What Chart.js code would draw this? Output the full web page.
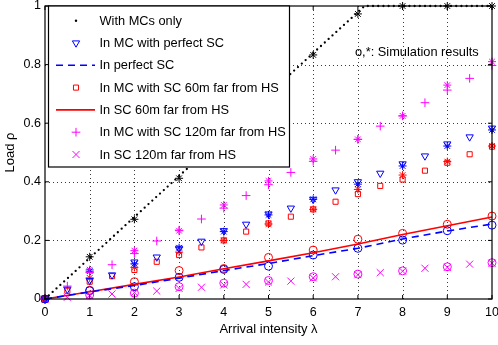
<!DOCTYPE html>
<html><head><meta charset="utf-8">
<script src="https://cdn.jsdelivr.net/npm/chart.js@4/dist/chart.umd.min.js"></script>
<style>html,body{margin:0;padding:0;background:#fff;}</style>
</head><body>
<canvas id="c" width="498" height="345" style="display:block;width:498px;height:345px"></canvas>
<script>
// ---- data ----
const lambdaHalf = [0,0.5,1,1.5,2,2.5,3,3.5,4,4.5,5,5.5,6,6.5,7,7.5,8,8.5,9,9.5,10];
const lambdaInt  = [0,1,2,3,4,5,6,7,8,9,10];
const xTicks = [0,1,2,3,4,5,6,7,8,9,10];
const yTicks = [0,0.2,0.4,0.6,0.8,1];
const yTickLabels = ["0","0.2","0.4","0.6","0.8","1"];

const labelMcOnly    = "With MCs only";
const labelMcPerfect = "In MC with perfect SC";
const labelPerfect   = "In perfect SC";
const labelMc60      = "In MC with SC 60m far from HS";
const labelSc60      = "In SC 60m far from HS";
const labelMc120     = "In MC with SC 120m far from HS";
const labelSc120     = "In SC 120m far from HS";
const noteText       = "o,*: Simulation results";
const xTitle = "Arrival intensity λ";
const yTitle = "Load ρ";

// analytic results
const mcOnlyX    = [0, 7.15, 10];
const mcOnlyLoad = [0, 1, 1];
const mcPerfectSC = [0,0.033,0.063,0.082,0.126,0.143,0.173,0.197,0.233,0.255,0.29,0.31,0.34,0.372,0.40,0.429,0.461,0.488,0.529,0.553,0.583];
const perfectSC   = [0,0.024,0.046,0.071,0.097,0.121,0.148,0.173,0.205,0.232,0.256];
const mcSC60      = [0,0.028,0.059,0.078,0.099,0.127,0.15,0.176,0.20,0.23,0.258,0.281,0.306,0.332,0.358,0.386,0.408,0.438,0.465,0.494,0.52];
const sc60        = [0,0.025,0.05,0.075,0.103,0.13,0.158,0.188,0.22,0.25,0.28];
const mcSC120     = [0,0.044,0.09,0.117,0.155,0.198,0.235,0.273,0.31,0.353,0.39,0.432,0.47,0.508,0.545,0.59,0.625,0.67,0.713,0.753,0.797];
const sc120       = [0,0.006,0.012,0.017,0.022,0.027,0.036,0.04,0.048,0.05,0.058,0.061,0.072,0.076,0.083,0.09,0.095,0.105,0.108,0.119,0.122];

// simulation results
const simMcOnly    = [0,0.144,0.272,0.412,0.555,0.695,0.833,0.973,1,1,1];
const simMcPerfect = [0,0.095,0.12,0.175,0.23,0.287,0.34,0.392,0.454,0.522,0.577];
const simPerfect   = [0,0.028,0.042,0.074,0.101,0.112,0.15,0.173,0.201,0.233,0.252];
const simMc60      = [0,0.072,0.108,0.16,0.20,0.256,0.306,0.374,0.423,0.469,0.522];
const simSc60      = [0,0.03,0.059,0.097,0.104,0.142,0.167,0.204,0.224,0.255,0.283];
const simMc120     = [0,0.10,0.165,0.233,0.321,0.403,0.478,0.545,0.625,0.73,0.81];
const simSc120     = [0,0.014,0.02,0.042,0.054,0.063,0.076,0.085,0.096,0.11,0.124];

const BLACK='#000000', BLUE='#0000ff', RED='#ff0000', MAG='#ff00ff';
const pts = (xs, ys) => xs.map((x,i)=>({x, y: ys[i]}));

function markers(label, xs, ys, color, style, r, rot, extra) {
  return Object.assign({
    label, data: pts(xs, ys), showLine:false, borderColor:color, backgroundColor:'rgba(0,0,0,0)',
    pointStyle:style, pointRadius:r, pointRotation:rot||0, pointBorderWidth:1,
    pointBorderColor:color, pointBackgroundColor:'rgba(0,0,0,0)', clip:false
  }, extra||{});
}
function line(label, xs, ys, color, dash, width, extra) {
  return Object.assign({
    label, data: pts(xs, ys), showLine:true, borderColor:color, borderWidth:width,
    borderDash:dash, pointRadius:0, tension:0, clip:false, fill:false
  }, extra||{});
}

const datasets = [
  line(labelMcOnly, mcOnlyX, mcOnlyLoad, BLACK, [0,5.2], 2.3, {borderCapStyle:'round', legendDot:true, inLegend:true}),
  markers(labelMcPerfect, lambdaHalf, mcPerfectSC, BLUE, 'triangle', 4.2, 180, {inLegend:true}),
  line(labelPerfect, lambdaInt, perfectSC, BLUE, [7,5], 1.6, {inLegend:true}),
  markers(labelMc60, lambdaHalf, mcSC60, RED, 'rect', 3.6, 0, {inLegend:true}),
  line(labelSc60, lambdaInt, sc60, RED, [], 1.6, {inLegend:true}),
  markers(labelMc120, lambdaHalf, mcSC120, MAG, 'cross', 4.3, 0, {inLegend:true}),
  markers(labelSc120, lambdaHalf, sc120, MAG, 'crossRot', 5, 0, {inLegend:true}),
  markers('sim MC only', lambdaInt, simMcOnly, BLACK, 'star', 4, 0),
  markers('sim MC perfect', lambdaInt, simMcPerfect, BLUE, 'star', 4, 0),
  markers('sim perfect SC', lambdaInt, simPerfect, BLUE, 'circle', 4, 0),
  markers('sim MC 60', lambdaInt, simMc60, RED, 'star', 4, 0),
  markers('sim SC 60', lambdaInt, simSc60, RED, 'circle', 4, 0),
  markers('sim MC 120', lambdaInt, simMc120, MAG, 'star', 4, 0),
  markers('sim SC 120', lambdaInt, simSc120, MAG, 'circle', 4, 0)
];

const FONT = '"Liberation Sans", Arial, Helvetica, sans-serif';

function drawMarker(ctx, style, x, y, r, rot, color, w) {
  ctx.save();
  ctx.strokeStyle = color; ctx.lineWidth = w; ctx.setLineDash([]);
  ctx.beginPath();
  if (style === 'triangle') {
    const a0 = (rot||0) * Math.PI/180;
    for (let k=0;k<3;k++){ const a=a0+k*2*Math.PI/3; const px=x+Math.sin(a)*r, py=y-Math.cos(a)*r; k?ctx.lineTo(px,py):ctx.moveTo(px,py);} ctx.closePath();
  } else if (style === 'rect') {
    const s = Math.SQRT1_2*r; ctx.rect(x-s,y-s,2*s,2*s);
  } else if (style === 'cross') {
    ctx.moveTo(x-r,y); ctx.lineTo(x+r,y); ctx.moveTo(x,y-r); ctx.lineTo(x,y+r);
  } else if (style === 'crossRot') {
    const s = Math.SQRT1_2*r; ctx.moveTo(x-s,y-s); ctx.lineTo(x+s,y+s); ctx.moveTo(x-s,y+s); ctx.lineTo(x+s,y-s);
  }
  ctx.stroke();
  ctx.restore();
}

const decor = {
  id: 'decor',
  beforeDatasetsDraw(chart) {
    const {ctx, chartArea: a, scales: {x, y}} = chart;
    ctx.save();
    ctx.strokeStyle = '#3a3a3a'; ctx.lineWidth = 1; ctx.setLineDash([1,3]);
    xTicks.forEach(v => { if (v>0 && v<10) { const px = Math.round(x.getPixelForValue(v))+0.5; ctx.beginPath(); ctx.moveTo(px,a.bottom); ctx.lineTo(px,a.top); ctx.stroke(); }});
    yTicks.forEach(v => { if (v>0 && v<1) { const py = Math.round(y.getPixelForValue(v))+0.5; ctx.beginPath(); ctx.moveTo(a.left,py); ctx.lineTo(a.right,py); ctx.stroke(); }});
    ctx.restore();
  },
  afterDatasetsDraw(chart) {
    const {ctx, chartArea: a, scales: {x, y}} = chart;
    ctx.save();
    // frame
    ctx.strokeStyle = '#000'; ctx.lineWidth = 1.2; ctx.setLineDash([]);
    ctx.strokeRect(a.left, a.top, a.right-a.left, a.bottom-a.top);
    // inner ticks
    ctx.lineWidth = 1;
    const tl = 4;
    xTicks.forEach(v => { const px = x.getPixelForValue(v); ctx.beginPath(); ctx.moveTo(px,a.bottom); ctx.lineTo(px,a.bottom-tl); ctx.moveTo(px,a.top); ctx.lineTo(px,a.top+tl); ctx.stroke(); });
    yTicks.forEach(v => { const py = y.getPixelForValue(v); ctx.beginPath(); ctx.moveTo(a.left,py); ctx.lineTo(a.left+tl,py); ctx.moveTo(a.right,py); ctx.lineTo(a.right-tl,py); ctx.stroke(); });
    // annotation
    ctx.fillStyle = '#000'; ctx.font = '12.8px ' + FONT; ctx.textBaseline = 'middle'; ctx.textAlign = 'left';
    ctx.fillText(noteText, 355, 52.5);
    // legend box
    const bx = 48.5, by = a.top, bw = 241, bh = 161;
    ctx.fillStyle = '#fff'; ctx.fillRect(bx, by, bw, bh);
    ctx.strokeStyle = '#000'; ctx.lineWidth = 1.2; ctx.strokeRect(bx, by, bw, bh);
    const items = chart.data.datasets.filter(d => d.inLegend);
    const y0 = 20.7, dy = 22.3, mx = 76, lx0 = 56, lx1 = 95, tx = 99.5;
    items.forEach((d, i) => {
      const yy = y0 + i*dy;
      if (d.legendDot) {
        ctx.fillStyle = d.borderColor; ctx.beginPath(); ctx.arc(mx, yy, 1.2, 0, Math.PI*2); ctx.fill();
      } else if (d.showLine) {
        ctx.save(); ctx.strokeStyle = d.borderColor; ctx.lineWidth = d.borderWidth; ctx.setLineDash(d.borderDash||[]);
        ctx.beginPath(); ctx.moveTo(lx0, yy); ctx.lineTo(lx1, yy); ctx.stroke(); ctx.restore();
      } else {
        drawMarker(ctx, d.pointStyle, mx, yy, d.pointRadius, d.pointRotation, d.borderColor, 1);
      }
      ctx.fillStyle = '#000'; ctx.font = '12.8px ' + FONT; ctx.textBaseline = 'middle'; ctx.textAlign = 'left';
      ctx.fillText(d.label, tx, yy + 0.5);
    });
    ctx.restore();
  }
};

Chart.defaults.color = '#000';
Chart.defaults.font.family = FONT;

new Chart(document.getElementById('c'), {
  type: 'scatter',
  data: { datasets },
  plugins: [decor],
  options: {
    responsive: false, animation: false, events: [], devicePixelRatio: 1,
    layout: { padding: { top: 6, right: 6, left: 0, bottom: 0 } },
    plugins: { legend: { display: false }, tooltip: { enabled: false } },
    scales: {
      x: {
        type: 'linear', min: 0, max: 10,
        afterBuildTicks: s => { s.ticks = xTicks.map(v => ({value: v})); },
        afterFit: s => { s.height = 46; s.paddingLeft = 0; s.paddingRight = 0; },
        grid: { display: false, drawTicks: false }, border: { display: false },
        ticks: { padding: 6, maxRotation: 0, autoSkip: false, font: { size: 12.5 }, color: '#000',
                 callback: (v) => String(xTicks[xTicks.indexOf(v)]) },
        title: { display: true, text: xTitle, font: { size: 13 }, padding: { top: 0, bottom: 8 }, color: '#000' }
      },
      y: {
        type: 'linear', min: 0, max: 1,
        afterBuildTicks: s => { s.ticks = yTicks.map(v => ({value: v})); },
        afterFit: s => { s.width = 45; s.paddingTop = 0; s.paddingBottom = 0; },
        grid: { display: false, drawTicks: false }, border: { display: false },
        ticks: { padding: 4, autoSkip: false, font: { size: 12.5 }, color: '#000',
                 callback: (v) => { const i = yTicks.indexOf(v); return i >= 0 ? yTickLabels[i] : ''; } },
        title: { display: true, text: yTitle, font: { size: 13 }, padding: { top: 3, bottom: 0 }, color: '#000' }
      }
    }
  }
});
</script>
</body></html>
